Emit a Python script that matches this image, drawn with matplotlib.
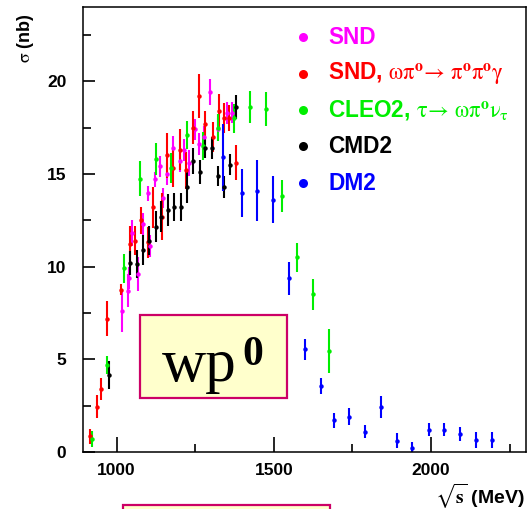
import matplotlib
matplotlib.use("Agg")
import matplotlib.pyplot as plt
from matplotlib.patches import Rectangle
from matplotlib.ticker import MultipleLocator

plt.rcParams['mathtext.fontset'] = 'stix'
plt.rcParams['font.family'] = ['Liberation Sans', 'DejaVu Sans']

# ---- data ----
snd_x = [1016, 1035, 1040, 1048, 1069, 1085, 1100, 1106, 1122, 1138, 1146, 1160,
         1180, 1201, 1215, 1230, 1249, 1262, 1278, 1297, 1321, 1350, 1366]
snd_y = [7.6, 8.7, 9.4, 11.8, 9.6, 12.3, 13.95, 11.1, 14.7, 15.4, 13.7, 15.0,
         16.4, 15.7, 16.3, 15.6, 17.4, 16.6, 17.0, 19.4, 17.4, 18.3, 18.3]
snd_e = [1.15, 0.9, 0.6, 0.7, 0.9, 0.6, 0.4, 0.6, 0.4, 0.55, 0.55, 0.6,
         0.65, 0.6, 0.6, 0.7, 0.55, 0.6, 0.6, 0.7, 0.6, 0.6, 0.55]

snd2_x = [915, 936, 951, 970, 1014, 1042, 1058, 1079, 1100, 1117, 1143, 1159,
          1178, 1201, 1220, 1244, 1263, 1281, 1307, 1326, 1342, 1357, 1379]
snd2_y = [0.85, 2.45, 3.4, 7.2, 8.75, 11.2, 11.4, 12.5, 11.3, 13.2, 12.7, 16.0,
          15.3, 16.3, 15.2, 17.5, 19.2, 17.7, 17.0, 18.4, 18.0, 18.0, 15.6]
snd2_e = [0.4, 0.6, 0.6, 0.95, 0.3, 1.0, 0.8, 0.72, 0.85, 1.1, 1.25, 1.2,
          1.0, 1.1, 1.0, 0.9, 1.2, 0.7, 0.8, 0.9, 0.8, 0.7, 0.95]

cleo_x = [921, 970, 1023, 1074, 1124, 1173, 1223, 1276, 1323, 1373, 1424, 1474,
          1525, 1575, 1624, 1677]
cleo_y = [0.7, 4.7, 9.9, 14.75, 15.8, 15.3, 17.1, 16.5, 17.5, 18.0, 18.6, 18.5,
          13.8, 10.5, 8.5, 5.46]
cleo_e = [0.45, 0.47, 0.8, 0.93, 0.88, 0.81, 0.77, 0.76, 0.72, 0.79, 0.87, 0.92,
          0.85, 0.79, 0.85, 1.19]

cmd_x = [975, 1042, 1064, 1085, 1103, 1124, 1141, 1162, 1183, 1204, 1223, 1244,
         1265, 1281, 1302, 1323, 1342, 1360, 1379]
cmd_y = [4.15, 10.2, 10.15, 10.9, 11.4, 12.15, 12.7, 13.05, 13.2, 13.2, 14.3, 15.7,
         15.1, 16.4, 16.4, 14.9, 14.3, 15.5, 18.6]
cmd_e = [0.75, 0.63, 0.75, 0.8, 0.8, 0.85, 0.83, 0.84, 0.76, 0.75, 0.85, 0.69,
         0.65, 0.57, 0.58, 0.54, 0.58, 0.58, 0.63]

dm2_x = [1337, 1398, 1445, 1498, 1549, 1599, 1649, 1690, 1740, 1790, 1840, 1891,
         1941, 1994, 2042, 2092, 2142, 2193]
dm2_y = [15.9, 13.95, 14.1, 13.6, 9.36, 5.53, 3.56, 1.7, 1.9, 1.1, 2.44, 0.61,
         0.2, 1.19, 1.19, 0.97, 0.65, 0.65]
dm2_e = [1.8, 1.3, 1.66, 1.26, 0.9, 0.58, 0.43, 0.4, 0.45, 0.36, 0.58, 0.39,
         0.35, 0.35, 0.35, 0.36, 0.43, 0.43]

series = [
    (snd_x, snd_y, snd_e, '#ff00ff'),
    (snd2_x, snd2_y, snd2_e, '#ff0000'),
    (cleo_x, cleo_y, cleo_e, '#00ee00'),
    (cmd_x, cmd_y, cmd_e, '#000000'),
    (dm2_x, dm2_y, dm2_e, '#0000ff'),
]
legend_labels = [
    "SND",
    r"SND, $\mathrm{\omega\pi}^{\mathbf{o}}\!\rightarrow\,\mathrm{\pi}^{\mathbf{o}}\mathrm{\pi}^{\mathbf{o}}\mathrm{\gamma}$",
    r"CLEO2, $\mathrm{\tau}\!\rightarrow\,\mathrm{\omega\pi}^{\mathbf{o}}\mathrm{\nu}_{\mathrm{\tau}}$",
    "CMD2",
    "DM2",
]

W, H = 527, 509
fig = plt.figure(figsize=(W / 100, H / 100), dpi=100)
ax = fig.add_axes([83 / W, 1 - 452 / H, (526 - 83) / W, (452 - 7) / H])

for xs, ys, es, c in series:
    ax.errorbar(xs, ys, yerr=es, fmt='o', ms=3.2, color=c, ecolor=c,
                elinewidth=1.5, capsize=2.6, capthick=1.5, mew=0)

ax.set_xlim(893, 2302)
ax.set_ylim(0, 24)
ax.xaxis.set_major_locator(MultipleLocator(500))
ax.xaxis.set_minor_locator(MultipleLocator(250))
ax.yaxis.set_major_locator(MultipleLocator(5))
ax.yaxis.set_minor_locator(MultipleLocator(2.5))
ax.tick_params(axis='x', which='major', direction='in', length=11, width=1.2, pad=8)
ax.tick_params(axis='x', which='minor', direction='in', length=5.5, width=1.2)
ax.tick_params(axis='y', which='major', direction='in', length=8.5, width=1.2, pad=12)
ax.tick_params(axis='y', which='minor', direction='in', length=5.5, width=1.2)
for lab in ax.get_xticklabels() + ax.get_yticklabels():
    lab.set_fontweight('bold')
    lab.set_fontsize(12.5)
for sp in ax.spines.values():
    sp.set_linewidth(1.1)

# axis titles
fig.text(26 / W, 1 - 38 / H, r"$\mathrm{\sigma}$ (nb)", rotation=90, ha='center', va='center',
         fontsize=13, fontweight='bold')
fig.text(525 / W, 1 - 496 / H, r"$\sqrt{\mathbf{s}}$ (MeV)", ha='right', va='center',
         fontsize=14, fontweight='bold')

# legend
rows = [37, 73.5, 110, 146.5, 183]
for (xs, ys, es, c), lab, ry in zip(series, legend_labels, rows):
    fig.text(328 / W, 1 - ry / H, lab, color=c, ha='left', va='center',
             fontsize=16.3, fontweight='bold')
    fig.lines.append(plt.Line2D([303 / W], [1 - ry / H], marker='o', ms=6.5,
                                color=c, mew=0, transform=fig.transFigure))

# annotation boxes
fig.patches.append(Rectangle((140 / W, 1 - 398 / H), 147 / W, 83 / H,
                             transform=fig.transFigure, facecolor='#ffffcc',
                             edgecolor='#cc0066', linewidth=1.6, zorder=5))
fig.text(162 / W, 1 - 381 / H, "wp", fontsize=44, family='Liberation Serif',
         ha='left', va='baseline', zorder=6)
fig.text(242 / W, 1 - 365 / H, "0", fontsize=30, family='Liberation Serif',
         fontweight='bold', ha='left', va='baseline', zorder=6)
fig.patches.append(Rectangle((123 / W, 1 - 520 / H), 207 / W, 15 / H,
                             transform=fig.transFigure, facecolor='#ffffcc',
                             edgecolor='#cc0066', linewidth=1.6, zorder=5))

fig.savefig("out.png", dpi=100)
